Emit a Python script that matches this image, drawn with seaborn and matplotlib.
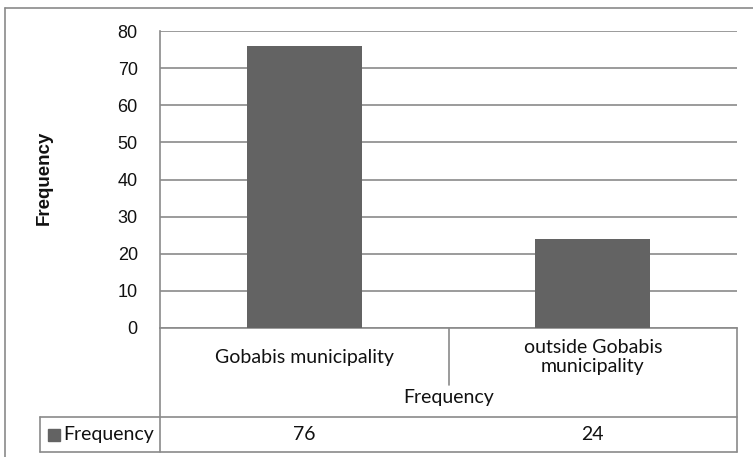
import matplotlib
matplotlib.use("Agg")
import matplotlib.pyplot as plt
import seaborn as sns
import pandas as pd
from matplotlib.lines import Line2D

# Data
categories = ["Gobabis municipality", "outside Gobabis\nmunicipality"]
frequency = [76, 24]
series_name = "Frequency"
y_ticks = [0, 10, 20, 30, 40, 50, 60, 70, 80]

df = pd.DataFrame({"place": categories, "freq": frequency})

sns.set_style("white")
plt.rcParams["font.family"] = ["Liberation Sans", "DejaVu Sans"]

line_col = "#8a8a8a"
bar_col = "#636363"
txt_font = ["Lato", "DejaVu Sans"]
fs = 14

fig = plt.figure(figsize=(7.53, 4.57), dpi=100)
ax = fig.add_axes([160 / 753, 1 - 328 / 457, 577 / 753, 297 / 457])

# Bars
sns.barplot(data=df, x="place", y="freq", color=bar_col, saturation=1,
            width=0.4, ax=ax, zorder=3, linewidth=0)

ax.set_xlim(-0.5, 1.5)
ax.set_ylim(0, 80)
ax.set_yticks(y_ticks)
ax.yaxis.grid(True, color=line_col, linewidth=1.2)
ax.set_axisbelow(True)
ax.tick_params(axis="y", length=0, pad=16, labelsize=13, labelcolor="#111111")
ax.set_xticks([])
ax.set_xlabel("")
ax.set_ylabel("Frequency", fontsize=13.5, fontweight="bold", color="#111111")
ax.yaxis.set_label_coords(-0.186, 0.505)

for side in ["top", "right"]:
    ax.spines[side].set_visible(False)
for side in ["left", "bottom"]:
    ax.spines[side].set_color(line_col)
    ax.spines[side].set_linewidth(1.2)

# Data table under the axis (Excel style)
xt = ax.get_xaxis_transform()
row_top = -(417 - 328) / 297
row_bot = -(452 - 328) / 297
div_end = -(385 - 328) / 297
leg_left = -(160 - 40) / 577
row_mid = (row_top + row_bot) / 2

def tline(xs, ys, transform):
    ax.add_line(Line2D(xs, ys, transform=transform, color=line_col,
                       linewidth=1.2, clip_on=False))

tline([0, 0], [0, row_bot], ax.transAxes)
tline([1, 1], [0, row_bot], ax.transAxes)
tline([0.5, 0.5], [0, div_end], ax.transAxes)
tline([leg_left, 1], [row_top, row_top], ax.transAxes)
tline([leg_left, 1], [row_bot, row_bot], ax.transAxes)
tline([leg_left, leg_left], [row_top, row_bot], ax.transAxes)

for i, (cat, val) in enumerate(zip(categories, frequency)):
    ax.text(i, -(357 - 328) / 297, cat, transform=xt, ha="center", va="center",
            fontsize=fs, family=txt_font, color="#111111", linespacing=1.1)
    ax.text(i, row_mid, str(val), transform=xt, ha="center",
            va="center", fontsize=fs, family=txt_font, color="#111111")

ax.text(0.5, -(397 - 328) / 297, series_name, transform=ax.transAxes,
        ha="center", va="center", fontsize=fs, family=txt_font, color="#111111")

# legend key in the table row
ax.add_line(Line2D([(54 - 160) / 577], [row_mid], transform=ax.transAxes,
                   marker="s", markersize=9, color=bar_col, linestyle="none",
                   clip_on=False))
ax.text((63 - 160) / 577, row_mid, series_name, transform=ax.transAxes,
        ha="left", va="center", fontsize=fs, family=txt_font, color="#111111")

# outer chart frame (cut off at right and bottom)
fig.add_artist(Line2D([5 / 753, 1], [1 - 8 / 457, 1 - 8 / 457], color=line_col, linewidth=1.2))
fig.add_artist(Line2D([5 / 753, 5 / 753], [0, 1 - 8 / 457], color=line_col, linewidth=1.2))

fig.savefig("out.png", dpi=100)
